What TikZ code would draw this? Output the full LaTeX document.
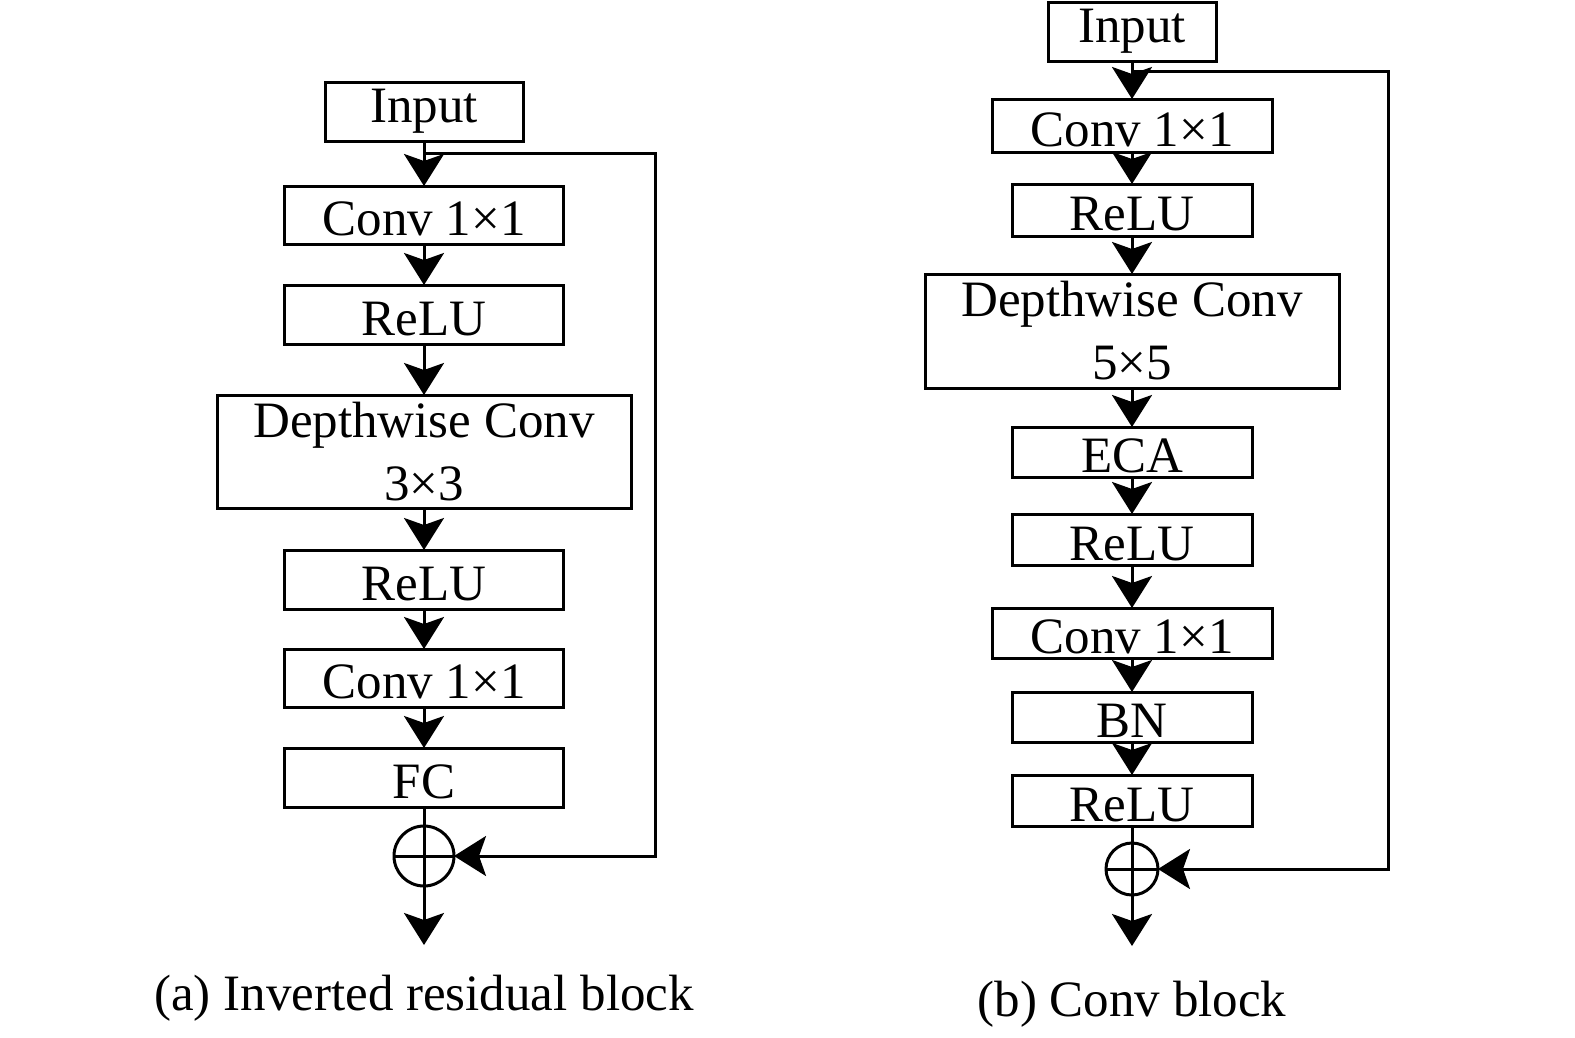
\documentclass[tikz,border=0pt]{standalone}
\usepackage{fontspec}
\setmainfont{Liberation Serif}
\usetikzlibrary{arrows.meta}
\begin{document}
\begin{tikzpicture}[x=1pt,y=-1pt,
  every node/.style={font=\fontsize{51}{63}\selectfont},
  blk/.style={draw,line width=3pt,inner sep=0pt,outer sep=0pt,align=center},
  one/.style={blk,text height=41pt,text depth=0pt},
  lnk/.style={line width=3pt},
  arr/.style={line width=3pt,-{Stealth[length=32pt,width=40pt,inset=7pt]}},
  plus/.style={draw,circle,line width=3pt,inner sep=0pt,outer sep=0pt,
    path picture={\draw[line width=3pt] (path picture bounding box.north) -- (path picture bounding box.south)
      (path picture bounding box.west) -- (path picture bounding box.east);}}]
\useasboundingbox (0,0) rectangle (1575,1037);
% left
\node[blk,minimum width=198pt,minimum height=59pt] (in1) at (424,111.5) {Input};
\node[one,minimum width=279pt,minimum height=58pt] (a1) at (424,215) {Conv 1×1};
\node[one,minimum width=279pt,minimum height=59pt] (a2) at (424,314.5) {ReLU};
\node[blk,minimum width=414pt,minimum height=113pt] (a3) at (424,451.5) {Depthwise Conv\\3×3};
\node[one,minimum width=279pt,minimum height=59pt] (a4) at (424,579.5) {ReLU};
\node[one,minimum width=279pt,minimum height=58pt] (a5) at (424,678) {Conv 1×1};
\node[one,minimum width=279pt,minimum height=59pt] (a6) at (424,777.5) {FC};
\node[plus,minimum size=60pt] (p1) at (424,856) {};
\coordinate (o1) at (424,945);
\coordinate (j1) at (424,153);
\coordinate (r1) at (655,153);
\draw[arr] (in1.south) -- (a1.north);
\draw[arr] (a1.south) -- (a2.north);
\draw[arr] (a2.south) -- (a3.north);
\draw[arr] (a3.south) -- (a4.north);
\draw[arr] (a4.south) -- (a5.north);
\draw[arr] (a5.south) -- (a6.north);
\draw[lnk] (a6.south) -- (p1.north);
\draw[arr] (p1.south) -- (o1);
\draw[arr] (j1) -- (r1) |- (p1.east);
\node (c1) at (424,998) {(a) Inverted residual block};
% right
\node[blk,minimum width=168pt,minimum height=59pt] (in2) at (1132,31.5) {Input};
\node[one,minimum width=280pt,minimum height=53pt] (b1) at (1132,125.5) {Conv 1×1};
\node[one,minimum width=240pt,minimum height=52pt] (b2) at (1132,210) {ReLU};
\node[blk,minimum width=414pt,minimum height=114pt] (b3) at (1132,331) {Depthwise Conv\\5×5};
\node[one,minimum width=240pt,minimum height=50pt] (b4) at (1132,452) {ECA};
\node[one,minimum width=240pt,minimum height=51pt] (b5) at (1132,539.5) {ReLU};
\node[one,minimum width=280pt,minimum height=50pt] (b6) at (1132,633) {Conv 1×1};
\node[one,minimum width=240pt,minimum height=50pt] (b7) at (1132,717) {BN};
\node[one,minimum width=240pt,minimum height=51pt] (b8) at (1132,800.5) {ReLU};
\node[plus,minimum size=52pt] (p2) at (1132,869) {};
\coordinate (o2) at (1132,946);
\coordinate (j2) at (1132,71);
\coordinate (r2) at (1388,71);
\draw[arr] (in2.south) -- (b1.north);
\draw[arr] (b1.south) -- (b2.north);
\draw[arr] (b2.south) -- (b3.north);
\draw[arr] (b3.south) -- (b4.north);
\draw[arr] (b4.south) -- (b5.north);
\draw[arr] (b5.south) -- (b6.north);
\draw[arr] (b6.south) -- (b7.north);
\draw[arr] (b7.south) -- (b8.north);
\draw[lnk] (b8.south) -- (p2.north);
\draw[arr] (p2.south) -- (o2);
\draw[arr] (j2) -- (r2) |- (p2.east);
\node (c2) at (1132,1004) {(b) Conv block};
\end{tikzpicture}
\end{document}
